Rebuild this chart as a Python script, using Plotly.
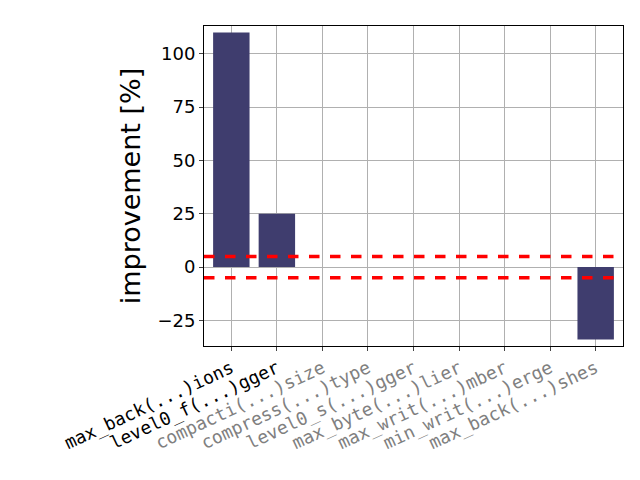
import plotly.graph_objects as go

labels = ["max_back(...)ions", "level0_f(...)gger", "compacti(...)size",
          "compress(...)type", "level0_s(...)gger", "max_byte(...)lier",
          "max_writ(...)mber", "min_writ(...)erge", "max_back(...)shes"]
improvement = [110, 25, 0, 0, 0, 0, 0, 0, -34]
label_colors = ["black", "black", "grey", "grey", "grey", "grey", "grey", "grey", "grey"]
threshold = 5

x = list(range(len(labels)))
ticktext = [f'<span style="color:{c}">{t}</span>' for t, c in zip(labels, label_colors)]

fig = go.Figure()
fig.add_trace(go.Bar(x=x, y=improvement, marker_color="#3f3d6e", width=0.8))
for v in (threshold, -threshold):
    fig.add_hline(y=v, line=dict(color="red", width=3.5, dash="dash"))

fig.update_layout(
    width=640, height=480, template="none", showlegend=False,
    margin=dict(l=196, r=25, t=18, b=142),
    font=dict(family="DejaVu Sans", size=18, color="black"),
    plot_bgcolor="white", paper_bgcolor="white",
)
fig.update_xaxes(
    tickvals=x, ticktext=ticktext, tickangle=-25, range=[-0.6, 8.6],
    showgrid=True, gridcolor="#b0b0b0", showline=True, mirror=True, linecolor="black",
    ticks="outside", ticklen=4, tickfont=dict(family="DejaVu Sans Mono", size=18),
)
fig.update_yaxes(
    title=dict(text="improvement [%]", font=dict(size=27), standoff=8), range=[-37, 113],
    tickvals=[-25, 0, 25, 50, 75, 100], showgrid=True, gridcolor="#b0b0b0",
    zeroline=False, showline=True, mirror=True, linecolor="black",
    ticks="outside", ticklen=4,
)
fig.write_html("out.html")
